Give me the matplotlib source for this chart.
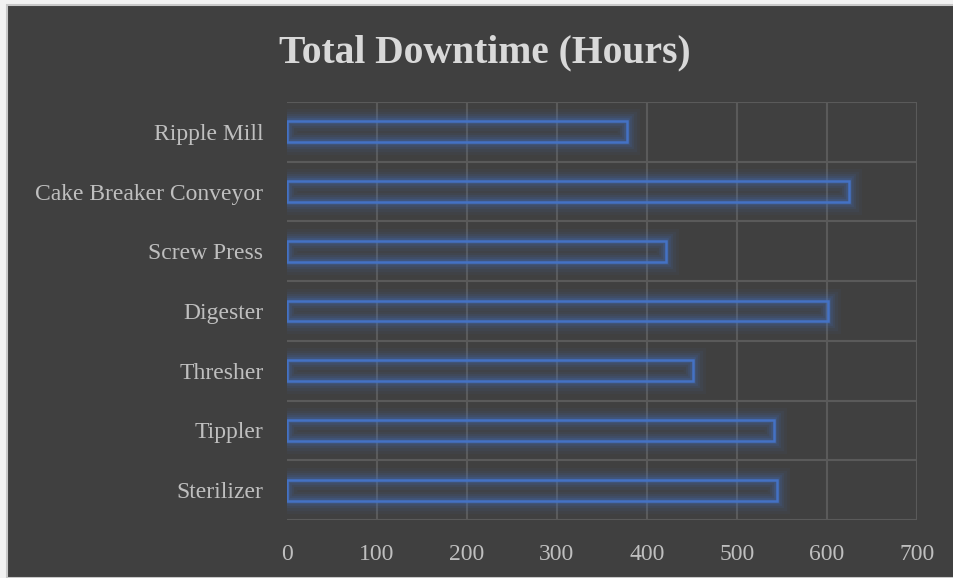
import matplotlib.pyplot as plt
import matplotlib.patheffects as pe
from matplotlib.patches import Rectangle

# downtime per machine, listed bottom to top
machines = ['Sterilizer', 'Tippler', 'Thresher', 'Digester', 'Screw Press',
            'Cake Breaker Conveyor', 'Ripple Mill']
hours = [545, 541, 451, 601, 421, 625, 378]
x_ticks = [0, 100, 200, 300, 400, 500, 600, 700]

bg = '#404040'
grid_col = '#5a5a5a'
bar_col = '#4472c4'
text_col = '#bfbfbf'

fig = plt.figure(figsize=(9.54, 5.78), dpi=100, facecolor='#f2f2f2')

# dark chart area with a thin grey frame
fig.patches.append(Rectangle((7 / 954, 0), 1, 1 - 5 / 578, transform=fig.transFigure,
                             facecolor=bg, edgecolor='#c8c8c8', linewidth=1.5, zorder=-5))

ax = fig.add_axes([287 / 954, 1 - 520 / 578, 630 / 954, 418 / 578])
ax.set_zorder(2)
ax.set_facecolor(bg)

ax.set_xlim(0, 700)
ax.set_ylim(-0.5, len(machines) - 0.5)

# grid: vertical at each 100, horizontal between categories
for x in x_ticks[1:]:
    ax.axvline(x, color=grid_col, lw=1.5, zorder=1)
for i in range(len(machines) + 1):
    ax.axhline(i - 0.5, color=grid_col, lw=1.5, zorder=1)

# outlined bars with a soft blue glow
glow = [pe.Stroke(linewidth=w, foreground=bar_col, alpha=a)
        for w, a in [(18, 0.05), (14, 0.07), (10, 0.1), (7, 0.14), (4, 0.22)]]
glow.append(pe.Normal())
bars = ax.barh(range(len(machines)), hours, height=0.35, facecolor='none',
               edgecolor=bar_col, linewidth=1.8, zorder=3)
for b in bars:
    b.set_path_effects(glow)

ax.set_xticks(x_ticks)
ax.set_yticks(range(len(machines)))
ax.set_yticklabels(machines)
ax.tick_params(axis='both', length=0, labelsize=17, labelcolor=text_col,
               labelfontfamily='Liberation Serif')
ax.tick_params(axis='x', pad=17)
ax.tick_params(axis='y', pad=17)
for s in ax.spines.values():
    s.set_visible(False)

fig.text(485 / 954, 1 - 53 / 578, 'Total Downtime (Hours)', ha='center', va='center',
         fontsize=28.5, fontweight='bold', color='#d9d9d9', family='Liberation Serif',
         zorder=3)

fig.savefig('out.png', dpi=100, facecolor=fig.get_facecolor())
